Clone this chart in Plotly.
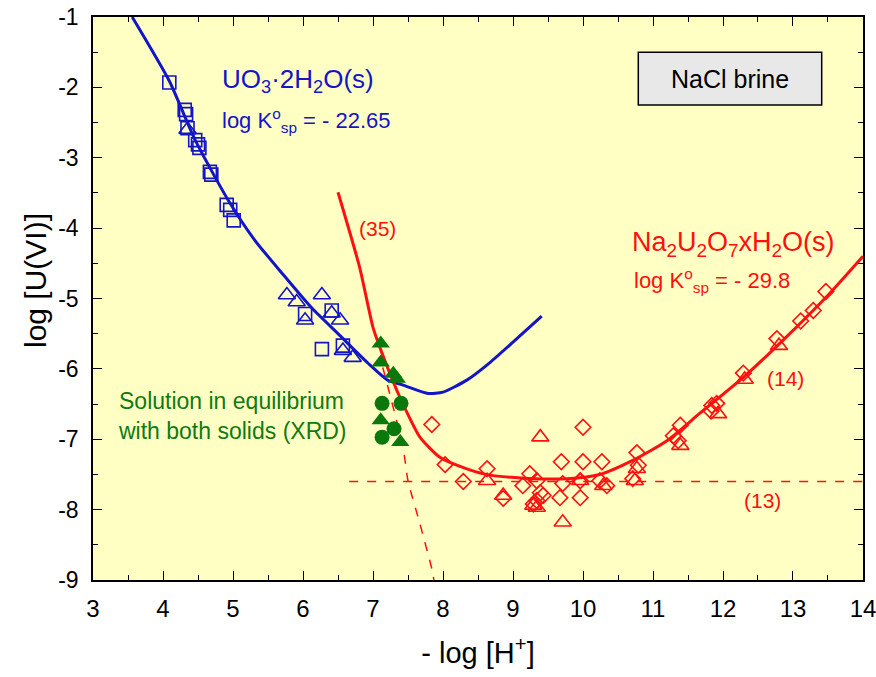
import plotly.graph_objects as go

# ---------------- data ----------------
# UO3.2H2O(s) region (blue)
blue_sq_x = [4.09, 4.31, 4.33, 4.35, 4.46, 4.50, 4.52, 4.67, 4.69, 4.91, 4.96, 5.01,
             6.03, 6.41, 6.27, 6.57]
blue_sq_y = [-1.93, -2.32, -2.38, -2.58, -2.75, -2.81, -2.86, -3.20, -3.24, -3.67, -3.74, -3.89,
             -5.22, -5.17, -5.72, -5.67]
blue_tri_x = [4.35, 5.77, 5.91, 6.27, 6.03, 6.41, 6.53, 6.57, 6.71]
blue_tri_y = [-2.60, -4.95, -5.05, -4.95, -5.31, -5.21, -5.31, -5.74, -5.84]

# solutions in equilibrium with both solids (green)
green_tri_x = [7.11, 7.11, 7.29, 7.34, 7.11, 7.39]
green_tri_y = [-5.64, -5.91, -6.07, -6.14, -6.73, -7.04]
green_cir_x = [7.13, 7.40, 7.30, 7.13]
green_cir_y = [-6.49, -6.49, -6.85, -6.97]

# Na2U2O7.xH2O(s) region (red)
red_dia_x = [7.84, 8.03, 8.29, 8.63, 8.86, 9.24, 9.14, 9.34, 9.39, 9.43, 9.34, 9.29,
             9.69, 9.71, 9.67, 9.96, 10.00, 9.96, 10.00, 10.27, 10.24, 10.34,
             10.77, 10.79, 10.71, 11.39, 11.29, 11.36, 11.84, 11.91, 11.83,
             12.29, 12.77, 13.11, 13.29, 13.47]
red_dia_y = [-6.79, -7.36, -7.60, -7.42, -7.84, -7.49, -7.66, -7.59, -7.76, -7.80, -7.87, -7.92,
             -7.32, -7.63, -7.83, -7.83, -7.32, -7.59, -6.83, -7.32, -7.59, -7.66,
             -7.19, -7.37, -7.56, -6.80, -6.95, -7.02, -6.52, -6.49, -6.60,
             -6.06, -5.57, -5.32, -5.17, -4.90]
red_tri_x = [9.39, 9.71, 8.63, 8.86, 9.29, 9.34, 9.96, 10.29, 10.77, 10.74,
             11.39, 11.93, 12.31, 12.80]
red_tri_y = [-6.97, -8.18, -7.59, -7.80, -7.94, -7.97, -7.59, -7.66, -7.42, -7.59,
             -7.09, -6.64, -6.15, -5.67]

# calculated curves
blue_curve_x = [3.56, 4.09, 4.46, 4.93, 5.31, 5.70, 6.13, 6.50, 6.93, 7.21, 7.43, 7.79,
                8.00, 8.34, 8.67, 9.00, 9.41]
blue_curve_y = [-1.00, -1.91, -2.75, -3.60, -4.17, -4.64, -5.14, -5.50, -5.92, -6.16, -6.23, -6.35,
                -6.33, -6.16, -5.91, -5.62, -5.25]
red_curve_x = [6.50, 6.81, 7.00, 7.13, 7.24, 7.36, 7.49, 7.67, 7.96, 8.34, 8.67, 9.29,
               9.77, 10.24, 10.71, 11.20, 11.67, 12.29, 12.87, 13.54, 14.00]
red_curve_y = [-3.49, -4.56, -5.41, -5.78, -6.06, -6.35, -6.63, -6.97, -7.26, -7.42, -7.51, -7.56,
               -7.56, -7.50, -7.30, -7.02, -6.63, -6.12, -5.58, -4.91, -4.40]
dotted35_x = [7.14, 7.43, 7.50, 7.67, 7.84, 7.87]
dotted35_y = [-5.98, -7.12, -7.59, -8.20, -8.84, -9.00]
line13_x = [6.66, 14.0]
line13_y = [-7.60, -7.60]

x_ticks = [3, 4, 5, 6, 7, 8, 9, 10, 11, 12, 13, 14]
y_ticks = [-9, -8, -7, -6, -5, -4, -3, -2, -1]
y_tick_text = ["-9", "-8", "-7", "-6", "-5", "-4", "-3", "-2", "-1"]

BLUE = "#1414c8"
RED = "#ff1010"
GREEN = "#107a10"
FONT = "Liberation Sans, Arial, sans-serif"

fig = go.Figure()

def line(x, y, color, width, dash="solid"):
    fig.add_trace(go.Scatter(x=x, y=y, mode="lines", line=dict(color=color, width=width, dash=dash,
                                                                 shape="spline", smoothing=0.6),
                             hoverinfo="skip", showlegend=False, cliponaxis=True))

def pts(x, y, symbol, color, size, lw=1.6):
    fig.add_trace(go.Scatter(x=x, y=y, mode="markers",
                             marker=dict(symbol=symbol, size=size, color=color,
                                         line=dict(color=color, width=lw)),
                             showlegend=False, cliponaxis=False))

line(line13_x, line13_y, RED, 1.5, "dash")
line(dotted35_x, dotted35_y, RED, 1.5, "dash")
line(blue_curve_x, blue_curve_y, BLUE, 3)
line(red_curve_x, red_curve_y, RED, 3)

pts(blue_sq_x, blue_sq_y, "square-open", BLUE, 13)
pts(blue_tri_x, blue_tri_y, "triangle-up-open", BLUE, 15)
pts(red_dia_x, red_dia_y, "diamond-open", RED, 12)
pts(red_tri_x, red_tri_y, "triangle-up-open", RED, 15)
pts(green_tri_x, green_tri_y, "triangle-up", "#0b780b", 16, 0)
pts(green_cir_x, green_cir_y, "circle", "#0b780b", 15, 0)

ann = []
def text(x, y, s, color, size, xanchor="left"):
    ann.append(dict(x=x, y=y, xref="x", yref="y", text=s, showarrow=False,
                    xanchor=xanchor, yanchor="middle", align="left",
                    font=dict(color=color, size=size, family=FONT)))

text(4.81, -1.90, "UO<sub>3</sub>·2H<sub>2</sub>O(s)", BLUE, 26)
text(4.81, -2.47, "log K<sup>o</sup><sub>sp</sub> = - 22.65", BLUE, 22)
text(10.67, -4.22, "Na<sub>2</sub>U<sub>2</sub>O<sub>7</sub>xH<sub>2</sub>O(s)", RED, 27)
text(10.70, -4.75, "log K<sup>o</sup><sub>sp</sub> = - 29.8", RED, 22)
text(7.07, -4.00, "(35)", RED, 21, "center")
text(12.89, -6.13, "(14)", RED, 21, "center")
text(12.56, -7.87, "(13)", RED, 21, "center")
text(3.33, -6.67, "Solution in equilibrium<br>with both solids (XRD)", GREEN, 23)
text(12.10, -1.88, "NaCl brine", "black", 25, "center")
# y-axis title placed as a rotated annotation
ann.append(dict(x=(35 - 93) / 770, y=(677 - 97 - 281) / 563, xref="paper", yref="paper",
                text="log [U(VI)]", showarrow=False, textangle=-90,
                xanchor="center", yanchor="middle",
                font=dict(size=30, family=FONT, color="black")))
fig.update_layout(annotations=ann)

fig.add_shape(type="rect", xref="x", yref="y", x0=10.79, x1=13.41, y0=-2.25, y1=-1.5,
              line=dict(color="black", width=1.5), fillcolor="#e8e8e8", layer="above")

axis_common = dict(showgrid=False, zeroline=False, showline=True, linecolor="black", linewidth=1.5,
                   mirror="ticks", ticks="inside", ticklen=9, tickwidth=1.2, tickcolor="black",
                   automargin=False, tickmode="array", ticklabeloverflow="allow")

fig.update_xaxes(range=[2.9999, 14.0001], tickvals=x_ticks, ticktext=[str(v) for v in x_ticks],
                 tickfont=dict(size=24, family=FONT, color="black"), ticklabelstandoff=6,
                 minor=dict(ticks="inside", ticklen=5, dtick=0.5, tick0=3, tickcolor="black", tickwidth=1),
                 title=dict(text="- log [H<sup>+</sup>]", font=dict(size=29, family=FONT, color="black"),
                            standoff=22),
                 **axis_common)
fig.update_yaxes(range=[-9.0001, -0.9999], tickvals=y_ticks, ticktext=y_tick_text,
                 tickfont=dict(size=23, family=FONT, color="black"), ticklabelstandoff=8,
                 minor=dict(ticks="inside", ticklen=5, dtick=0.5, tick0=-9, tickcolor="black", tickwidth=1),
                 **axis_common)

fig.update_layout(width=876, height=677, margin=dict(l=93, r=13, t=17, b=97),
                  plot_bgcolor="#ffffc4", paper_bgcolor="white", showlegend=False)

fig.write_html("out.html")
